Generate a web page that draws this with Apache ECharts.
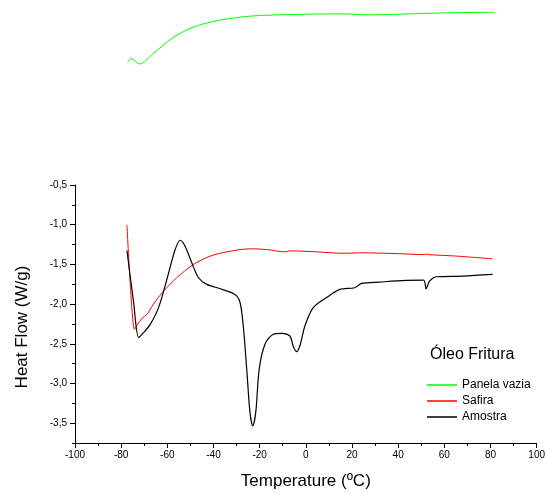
<!DOCTYPE html>
<html>
<head>
<meta charset="utf-8">
<script src="https://cdn.jsdelivr.net/npm/echarts@6/dist/echarts.min.js"></script>
<style>
  body { margin: 0; background: #fff; }
  #chart { width: 548px; height: 495px; }
</style>
</head>
<body>
<div id="chart"></div>
<script>
// Panela vazia (green) – lies above the plotted y range, drawn unclipped
var panelaX = [-77.2, -75.6, -72.1, -66, -58, -48.7, -37.1, -24.2, -5.5, 16.1, 27.6, 44.9, 59.3, 81.6]
var panelaY = [1.045, 1.095, 1.024, 1.158, 1.347, 1.49, 1.577, 1.627, 1.648, 1.656, 1.643, 1.656, 1.668, 1.677]

// Safira (red)
var safiraX = [-77.5, -76, -74.2, -73.2, -71, -68.8, -66, -61.6, -55.9, -48.7, -41.5, -34.3, -24.2, -17, -9.1, -6.9, 4.6, 16.1, 24.8, 40, 50.7, 52.1, 53.5, 65, 80.9]
var safiraY = [-1.0, -1.774, -2.318, -2.268, -2.18, -2.13, -2.0, -1.836, -1.668, -1.501, -1.397, -1.342, -1.304, -1.313, -1.342, -1.33, -1.342, -1.36, -1.354, -1.365, -1.376, -1.37, -1.378, -1.395, -1.43]

// Amostra (black)
var amostraX = [-77.5, -74.6, -72.4, -70.3, -67.4, -63.8, -60.2, -56.6, -54.4, -52.3, -49.4, -46.5, -42.9, -37.1, -30.7, -28.5, -27.1, -25.6, -24.2, -23, -21.7, -20.2, -17.7, -14.1, -10.5, -6.9, -5.5, -4.0, -2.6, -0.4, 3.2, 8.9, 14.7, 21.2, 24.1, 32, 43.5, 51, 52.1, 53.6, 56.5, 68, 80.9]
var amostraY = [-1.325, -1.98, -2.42, -2.36, -2.255, -2.045, -1.69, -1.313, -1.196, -1.271, -1.48, -1.668, -1.752, -1.807, -1.878, -1.98, -2.276, -2.82, -3.365, -3.533, -3.365, -2.82, -2.506, -2.38, -2.368, -2.402, -2.528, -2.6, -2.528, -2.276, -2.046, -1.92, -1.815, -1.794, -1.74, -1.723, -1.702, -1.698, -1.807, -1.71, -1.656, -1.648, -1.627]

var yLabels = [-3.5, -3.0, -2.5, -2.0, -1.5, -1.0, -0.5]

function pairs(xs, ys) {
  return xs.map(function (x, i) { return [x, ys[i]] })
}

var chart = echarts.init(document.getElementById('chart'))
var font = 'Liberation Sans, Arial, sans-serif'
var option = {
  animation: false,
  textStyle: { fontFamily: font },
  title: {
    text: 'Óleo Fritura',
    left: 425,
    top: 342,
    textStyle: { fontSize: 16, fontWeight: 'normal', color: '#000', fontFamily: font }
  },
  legend: {
    orient: 'vertical',
    left: 422,
    top: 374,
    itemWidth: 30,
    itemHeight: 1.5,
    itemGap: 4,
    icon: 'rect',
    textStyle: { fontSize: 12, color: '#000', fontFamily: font },
    data: ['Panela vazia', 'Safira', 'Amostra']
  },
  grid: { left: 75, right: 10, top: 185, bottom: 52 },
  xAxis: {
    type: 'value',
    min: -100,
    max: 100,
    interval: 20,
    name: 'Temperature (ºC)',
    nameLocation: 'middle',
    nameGap: 30,
    nameTextStyle: { fontSize: 17, color: '#000', fontFamily: font },
    axisLine: { onZero: false, lineStyle: { color: '#000', width: 1 } },
    axisTick: { length: 5, lineStyle: { color: '#000' } },
    minorTick: { show: true, splitNumber: 2, length: 3, lineStyle: { color: '#000' } },
    axisLabel: { fontSize: 10, color: '#000', margin: 7, fontFamily: font },
    splitLine: { show: false }
  },
  yAxis: [
    {
      type: 'value',
      min: -3.75,
      max: -0.5,
      name: 'Heat Flow (W/g)',
      nameLocation: 'middle',
      nameGap: 44,
      nameTextStyle: { fontSize: 17, color: '#000', fontFamily: font, padding: [0, 0, 0, -26] },
      axisLine: { show: true, onZero: false, lineStyle: { color: '#000', width: 1 } },
      axisTick: { show: true, length: 5, customValues: yLabels, lineStyle: { color: '#000' } },
      axisLabel: {
        fontSize: 10, color: '#000', margin: 8, fontFamily: font,
        customValues: yLabels,
        formatter: function (v) { return v.toFixed(1).replace('.', ',') }
      },
      splitLine: { show: false }
    },
    {
      type: 'value',
      position: 'left',
      min: -3.75,
      max: -0.5,
      interval: 0.25,
      axisLine: { show: false, onZero: false },
      axisTick: { show: true, length: 3, lineStyle: { color: '#000' } },
      axisLabel: { show: false },
      splitLine: { show: false }
    }
  ],
  series: [
    {
      name: 'Panela vazia', type: 'line', data: pairs(panelaX, panelaY),
      showSymbol: false, symbol: 'none', smooth: 0.3, clip: false,
      lineStyle: { color: '#00ff00', width: 1 }, itemStyle: { color: '#00ff00' }
    },
    {
      name: 'Safira', type: 'line', data: pairs(safiraX, safiraY),
      showSymbol: false, symbol: 'none', smooth: 0.3,
      lineStyle: { color: '#ff0000', width: 1 }, itemStyle: { color: '#ff0000' }
    },
    {
      name: 'Amostra', type: 'line', data: pairs(amostraX, amostraY),
      showSymbol: false, symbol: 'none', smooth: 0.3,
      lineStyle: { color: '#000000', width: 1.2 }, itemStyle: { color: '#000000' }
    }
  ]
}
chart.setOption(option)
</script>
</body>
</html>
